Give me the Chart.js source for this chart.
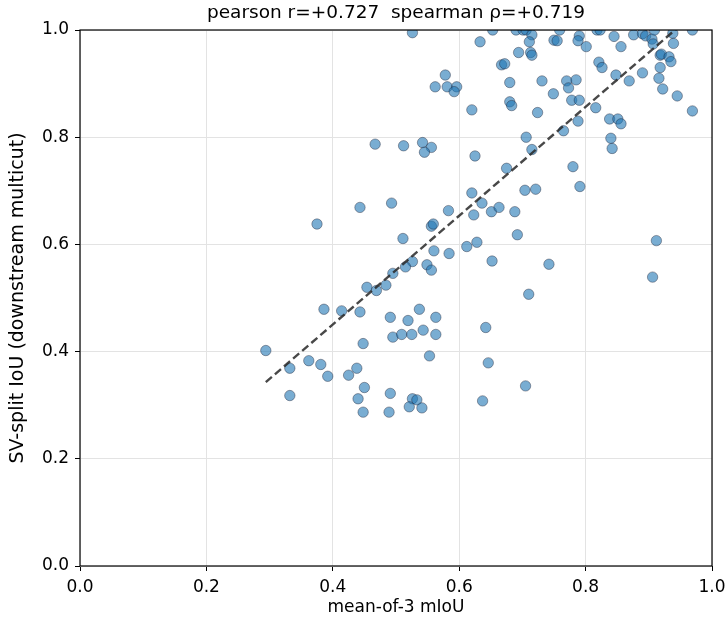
<!DOCTYPE html>
<html>
<head>
<meta charset="utf-8">
<script src="https://cdn.jsdelivr.net/npm/chart.js@4.4.1/dist/chart.umd.min.js"></script>
<style>
  html, body { margin: 0; padding: 0; background: #fff; }
  canvas { display: block; }
</style>
</head>
<body>
<canvas id="chart" width="727" height="621"></canvas>
<script>
// mean-of-3 mIoU per sample (x)
const meanIoU = [
    0.633, 0.653, 0.690, 0.701, 0.706, 0.715, 0.711, 0.694, 0.713, 0.715,
    0.667, 0.672, 0.680, 0.731, 0.750, 0.755, 0.759, 0.790, 0.788, 0.801,
    0.818, 0.823, 0.845, 0.856, 0.876, 0.890, 0.895, 0.905, 0.907, 0.909,
    0.938, 0.939, 0.969, 0.821, 0.826, 0.770, 0.773, 0.785, 0.749, 0.680,
    0.683, 0.724, 0.778, 0.790, 0.788, 0.765, 0.816, 0.848, 0.869, 0.890,
    0.918, 0.920, 0.932, 0.935, 0.918, 0.916, 0.922, 0.945, 0.969, 0.838,
    0.851, 0.856, 0.840, 0.842, 0.706, 0.715, 0.675, 0.780, 0.704, 0.721,
    0.791, 0.636, 0.651, 0.663, 0.688,
    0.692, 0.652, 0.742, 0.912, 0.906, 0.710, 0.642, 0.646, 0.705, 0.637,
    0.526, 0.578, 0.562, 0.581, 0.596, 0.592, 0.620, 0.467, 0.512, 0.542,
    0.556, 0.545, 0.625, 0.443, 0.493, 0.583, 0.620, 0.623,
    0.375, 0.556, 0.559, 0.511, 0.612, 0.628, 0.560, 0.584, 0.526, 0.515,
    0.549, 0.556, 0.495, 0.454, 0.469, 0.484, 0.386, 0.414, 0.443, 0.491,
    0.519, 0.537, 0.563, 0.495, 0.509, 0.525, 0.543, 0.563, 0.448, 0.294,
    0.332, 0.362, 0.381, 0.392, 0.425, 0.438, 0.553, 0.332, 0.450, 0.440,
    0.491, 0.526, 0.533, 0.521, 0.541, 0.448, 0.489
];
// SV-split IoU (downstream multicut) per sample (y)
const svSplitIoU = [
    0.978, 1.000, 1.000, 1.000, 1.000, 0.991, 0.978, 0.958, 0.958, 0.953,
    0.935, 0.937, 0.902, 0.905, 0.981, 0.980, 1.000, 0.989, 0.980, 0.969,
    1.000, 1.000, 0.988, 0.969, 0.991, 0.993, 0.989, 0.983, 0.974, 1.000,
    0.994, 0.975, 1.000, 0.940, 0.930, 0.905, 0.892, 0.907, 0.881, 0.866,
    0.859, 0.846, 0.869, 0.869, 0.830, 0.812, 0.855, 0.916, 0.905, 0.920,
    0.953, 0.955, 0.950, 0.941, 0.930, 0.910, 0.890, 0.877, 0.849, 0.834,
    0.834, 0.825, 0.798, 0.779, 0.800, 0.777, 0.742, 0.745, 0.701, 0.703,
    0.708, 0.677, 0.661, 0.669, 0.661,
    0.618, 0.569, 0.563, 0.607, 0.539, 0.507, 0.445, 0.379, 0.336, 0.308,
    0.995, 0.916, 0.894, 0.894, 0.894, 0.885, 0.851, 0.787, 0.784, 0.790,
    0.781, 0.772, 0.765, 0.669, 0.677, 0.663, 0.696, 0.655,
    0.638, 0.634, 0.638, 0.611, 0.596, 0.604, 0.588, 0.583, 0.568, 0.558,
    0.562, 0.552, 0.546, 0.520, 0.514, 0.524, 0.479, 0.476, 0.474, 0.464,
    0.458, 0.479, 0.464, 0.427, 0.432, 0.432, 0.440, 0.432, 0.415, 0.402,
    0.369, 0.383, 0.376, 0.354, 0.356, 0.369, 0.392, 0.318, 0.333, 0.312,
    0.322, 0.312, 0.310, 0.297, 0.295, 0.287, 0.287
];
// dashed least-squares line, end points
const fitX = [0.294, 0.969];
const fitY = [0.343, 1.028];
const axisTicks = [0.0, 0.2, 0.4, 0.6, 0.8, 1.0];
const titleText = 'pearson r=+0.727  spearman \u03c1=+0.719';

const FONT = 'DejaVu Sans';

const points = meanIoU.map((x, i) => ({ x: x, y: svSplitIoU[i] }));
const fitLine = fitX.map((x, i) => ({ x: x, y: fitY[i] }));

// matplotlib style: closed frame + title above the axes
const framePlugin = {
    id: 'frame',
    afterDraw(chart) {
        const { ctx, chartArea: a } = chart;
        ctx.save();
        ctx.strokeStyle = '#000';
        ctx.lineWidth = 1.2;
        ctx.strokeRect(a.left, a.top, a.right - a.left, a.bottom - a.top);
        ctx.fillStyle = '#000';
        ctx.font = '18.5px "' + FONT + '"';
        ctx.textAlign = 'center';
        ctx.textBaseline = 'alphabetic';
        ctx.fillText(titleText, (a.left + a.right) / 2, a.top - 12);
        ctx.restore();
    }
};

const tickCfg = {
    color: '#000',
    padding: 6,
    font: { family: FONT, size: 17 },
    callback: v => v.toFixed(1)
};

new Chart(document.getElementById('chart').getContext('2d'), {
    type: 'scatter',
    data: {
        datasets: [
            {
                type: 'line',
                data: fitLine,
                borderColor: 'rgba(40,40,40,0.85)',
                borderWidth: 2.4,
                borderDash: [8, 4],
                pointRadius: 0,
                fill: false,
                order: 0
            },
            {
                data: points,
                backgroundColor: 'rgba(31,119,180,0.6)',
                borderColor: 'rgba(20,20,40,0.55)',
                borderWidth: 0.7,
                pointRadius: 5.2,
                order: 1
            }
        ]
    },
    options: {
        responsive: false,
        animation: false,
        devicePixelRatio: 1,
        layout: { padding: { top: 30, right: 15, left: 0, bottom: 0 } },
        plugins: {
            legend: { display: false },
            tooltip: { enabled: false }
        },
        scales: {
            x: {
                type: 'linear',
                min: 0, max: 1,
                afterBuildTicks: axis => { axis.ticks = axisTicks.map(v => ({ value: v })); },
                afterFit: axis => {
                    axis.height = 55;
                    axis.paddingLeft = 0;
                    axis.paddingRight = 0;
                },
                grid: { color: '#e3e3e3', tickColor: '#000', tickLength: 5 },
                border: { display: false },
                ticks: tickCfg,
                title: {
                    display: true,
                    text: 'mean-of-3 mIoU',
                    color: '#000',
                    font: { family: FONT, size: 17 },
                    padding: { top: 0, bottom: 3 }
                }
            },
            y: {
                type: 'linear',
                min: 0, max: 1,
                afterBuildTicks: axis => { axis.ticks = axisTicks.map(v => ({ value: v })); },
                afterFit: axis => { axis.width = 80; },
                grid: { color: '#e3e3e3', tickColor: '#000', tickLength: 5 },
                border: { display: false },
                ticks: tickCfg,
                title: {
                    display: true,
                    text: 'SV-split IoU (downstream multicut)',
                    color: '#000',
                    font: { family: FONT, size: 19 },
                    padding: { top: 7, bottom: 0 }
                }
            }
        }
    },
    plugins: [framePlugin]
});
</script>
</body>
</html>
